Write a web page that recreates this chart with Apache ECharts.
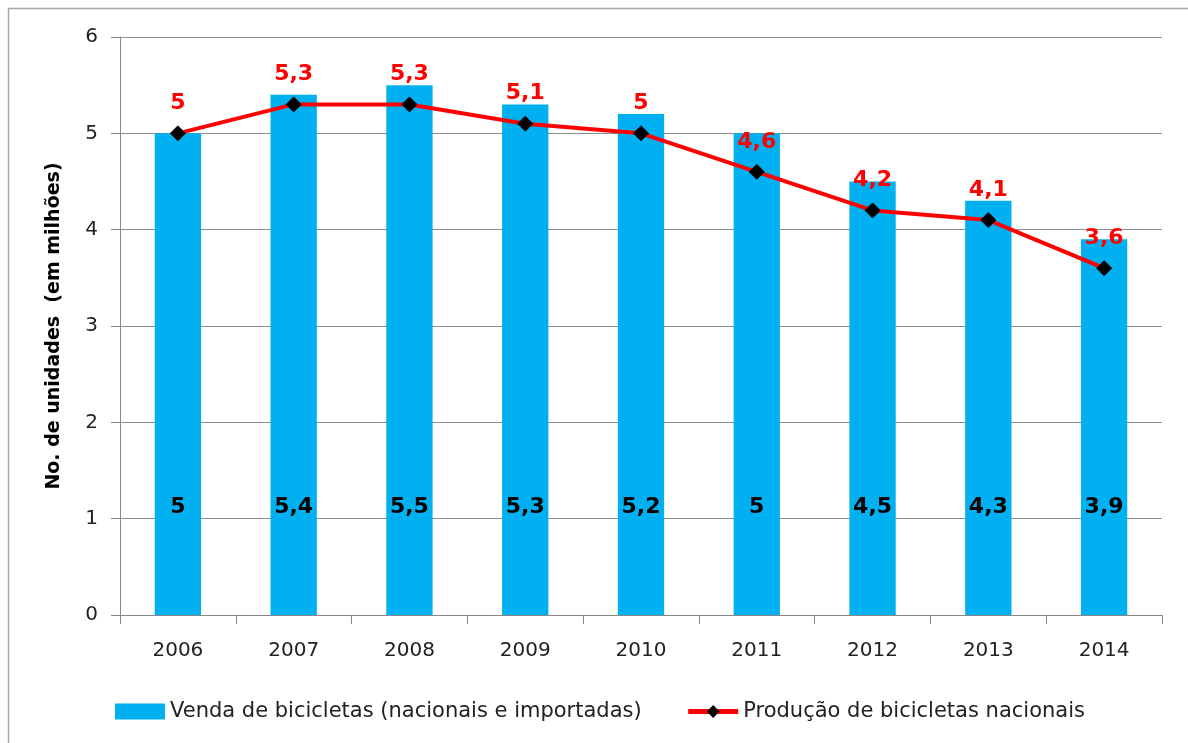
<!DOCTYPE html>
<html><head><meta charset="utf-8">
<script src="https://cdn.jsdelivr.net/npm/echarts@6/dist/echarts.min.js"></script>
<style>html,body{margin:0;padding:0;background:#fff}#c{width:1188px;height:743px}</style>
</head><body><div id="c"></div>
<script>
const categories = ['2006','2007','2008','2009','2010','2011','2012','2013','2014'];
const vendas = [5, 5.4, 5.5, 5.3, 5.2, 5, 4.5, 4.3, 3.9];
const producao = [5, 5.3, 5.3, 5.1, 5, 4.6, 4.2, 4.1, 3.6];
const yTicks = [0, 1, 2, 3, 4, 5, 6];
const fmt = v => String(v).replace('.', ',');

const chart = echarts.init(document.getElementById('c'));
chart.setOption({
  animation: false,
  backgroundColor: '#fff',
  graphic: [{type:'rect', shape:{x:8.5,y:8.5,width:1200,height:760}, style:{fill:'none',stroke:'#a6a6a6',lineWidth:1.5}}],
  grid: {left:120, right:26, top:37, bottom:128},
  legend: {
    left: 110, top: 696, itemWidth: 50, itemHeight: 16, itemGap: 44,
    textStyle: {fontFamily:'DejaVu Sans', fontSize:21, color:'#222'},
    data: [
      {name:'Venda de bicicletas (nacionais e importadas)', icon:'rect'},
      {name:'Produção de bicicletas nacionais', lineStyle:{width:5, color:'#FF0000'}}
    ]
  },
  xAxis: {
    type:'category', data: categories,
    axisLine:{lineStyle:{color:'#888'}},
    axisTick:{show:true, length:9, lineStyle:{color:'#888'}},
    axisLabel:{fontFamily:'DejaVu Sans', fontSize:20, color:'#222', margin:26}
  },
  yAxis: {
    type:'value', min: yTicks[0], max: yTicks[yTicks.length-1], interval: 1,
    name: 'No. de unidades  (em milhões)', nameLocation:'middle', nameGap: 56, nameRotate: 90,
    nameTextStyle:{fontFamily:'DejaVu Sans', fontWeight:'bold', fontSize:19, color:'#000'},
    axisLine:{show:true, lineStyle:{color:'#888'}},
    axisTick:{show:true, length:9, lineStyle:{color:'#888'}},
    axisLabel:{fontFamily:'DejaVu Sans', fontSize:20, color:'#222', margin:22},
    splitLine:{lineStyle:{color:'#8c8c8c', width:1}}
  },
  series: [
    {
      name:'Venda de bicicletas (nacionais e importadas)', type:'bar', data: vendas,
      barWidth: '40%', itemStyle:{color:'#00B0F0'},
      label:{show:true, position:'insideBottom', distance:97, formatter: p => fmt(p.value),
        fontFamily:'DejaVu Sans', fontWeight:'bold', fontSize:22, color:'#000'}
    },
    {
      name:'Produção de bicicletas nacionais', type:'line', data: producao,
      symbol:'diamond', symbolSize:15, lineStyle:{color:'#FF0000', width:4},
      itemStyle:{color:'#000', borderColor:'#000'},
      label:{show:true, position:'top', distance:11, formatter: p => fmt(p.value),
        fontFamily:'DejaVu Sans', fontWeight:'bold', fontSize:22, color:'#FF0000'},
      z: 5
    }
  ]
});
</script></body></html>
